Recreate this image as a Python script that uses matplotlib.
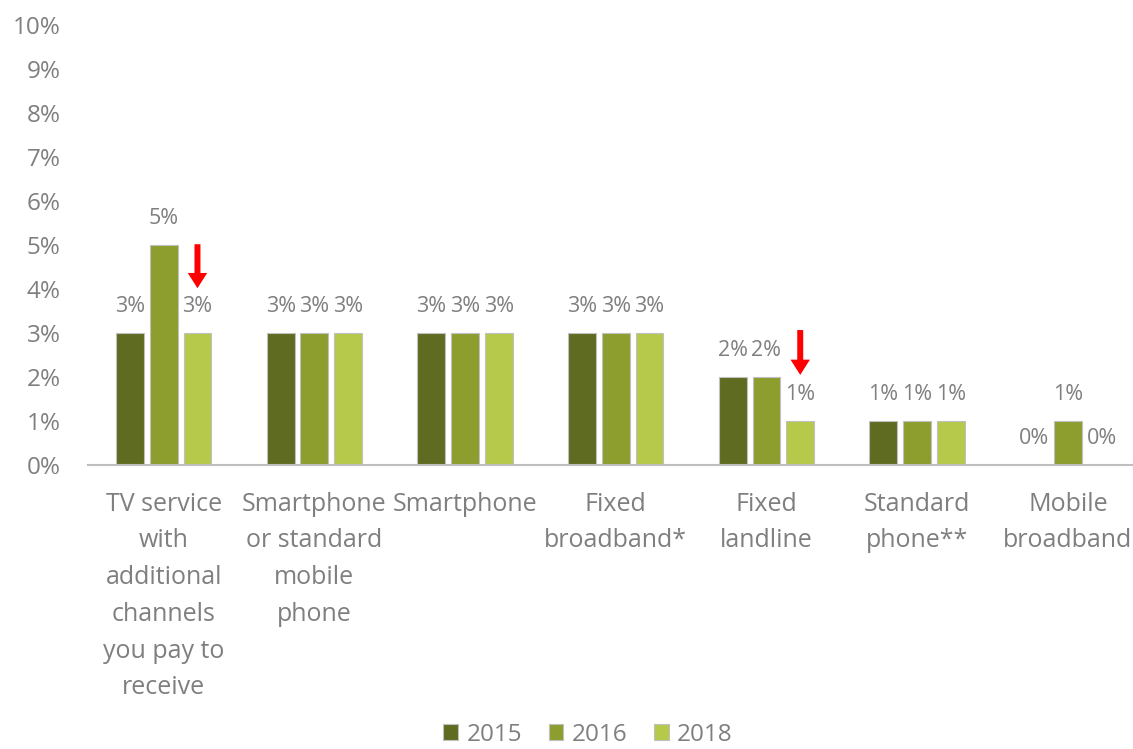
import numpy as np
import matplotlib.pyplot as plt

categories = ['TV service\nwith\nadditional\nchannels\nyou pay to\nreceive',
              'Smartphone\nor standard\nmobile\nphone',
              'Smartphone', 'Fixed\nbroadband*', 'Fixed\nlandline',
              'Standard\nphone**', 'Mobile\nbroadband']
years = ['2015', '2016', '2018']
v2015 = [3, 3, 3, 3, 2, 1, 0]
v2016 = [5, 3, 3, 3, 2, 1, 1]
v2018 = [3, 3, 3, 3, 1, 1, 0]
colors = ['#5f6b21', '#8d9e2f', '#b6c94b']
# arrows marking a drop: (category index, top, bottom)
arrows = [(0, 5.02, 4.02), (4, 3.07, 2.05)]

plt.rcParams['font.family'] = ['Open Sans', 'DejaVu Sans']
grey = '#7f7f7f'

fig = plt.figure(figsize=(11.33, 7.49), dpi=100)
ax = fig.add_axes([0.078, 0.379, 0.931, 0.5875])

x = np.arange(len(categories))
w = 0.185
step = 0.224
for i, (vals, c, yr) in enumerate(zip([v2015, v2016, v2018], colors, years)):
    pos = x + (i - 1) * step
    ax.bar(pos, vals, w, color=c, edgecolor='#c0c0c0', linewidth=0.8, label=yr)
    for p, v in zip(pos, vals):
        ax.text(p, v + 0.36, f'{v}%', ha='center', va='bottom', fontsize=15.5, color=grey)

for ci, top, bot in arrows:
    xa = x[ci] + step
    ax.annotate('', xy=(xa, bot), xytext=(xa, top),
                arrowprops=dict(width=4.3, headwidth=14, headlength=11,
                                shrink=0, color='#ff0000', lw=0))

ax.set_xlim(-0.5, len(categories) - 0.5)
ax.set_ylim(0, 10)
ax.set_yticks(range(0, 11))
ax.set_yticklabels([f'{t}%' for t in range(0, 11)], fontsize=17.5, color=grey)
ax.set_xticks(x)
ax.set_xticklabels(categories, fontsize=18, color=grey, linespacing=1.62, va='top')
ax.tick_params(axis='both', length=0)
ax.tick_params(axis='x', pad=19)
ax.tick_params(axis='y', pad=20)
for s in ['top', 'right', 'left']:
    ax.spines[s].set_visible(False)
ax.spines['bottom'].set_color('#bfbfbf')
ax.spines['bottom'].set_linewidth(1.5)

fig.legend(loc='lower center', bbox_to_anchor=(0.519, -0.026), ncol=3, frameon=False,
           fontsize=17.5, labelcolor=grey, handlelength=0.6, handleheight=0.6,
           handletextpad=0.35, columnspacing=1.1)

fig.savefig('out.png', dpi=100)
